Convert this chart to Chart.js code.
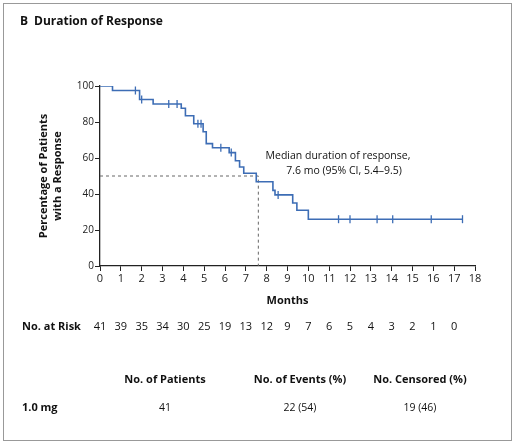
<!DOCTYPE html>
<html><head><meta charset="utf-8">
<script src="https://cdn.jsdelivr.net/npm/chart.js@4"></script>
<style>body{margin:0;background:#fff}#c{display:block}</style>
</head><body>
<div style="width:516px;height:448px"><canvas id="c" width="516" height="448"></canvas></div>
<script>
// KM step points: [month, percent]
const eventMonths = [0, 0.6, 1.9, 2.55, 3.9, 4.1, 4.5, 4.95, 5.1, 5.4, 6.2, 6.5, 6.7, 6.9, 7.5, 8.3, 8.4, 9.25, 9.45, 10.0, 17.4];
const survival    = [100, 97.5, 92.5, 90, 87.6, 83.5, 79, 74.6, 68, 65.7, 63, 58.5, 55, 51.5, 46.8, 42, 39.5, 35, 31, 26, 26];
const censorMonths = [1.7, 2.0, 3.3, 3.7, 4.7, 4.85, 5.8, 6.3, 8.55, 11.45, 12.0, 13.3, 14.05, 15.9, 17.4];
const atRisk = [41, 39, 35, 34, 30, 25, 19, 13, 12, 9, 7, 6, 5, 4, 3, 2, 1, 0];
const xTicks = [0,1,2,3,4,5,6,7,8,9,10,11,12,13,14,15,16,17,18];
const medianMonth = 7.6;

const FONT = "'Liberation Sans Narrow','Open Sans',sans-serif";
const blue = '#3d6db5';

function survAt(t) {
  let v = 100;
  for (let i = 0; i < eventMonths.length; i++) if (eventMonths[i] <= t) v = survival[i];
  return v;
}

const overlay = {
  id: 'overlay',
  afterDraw(chart) {
    const c = chart.ctx, xs = chart.scales.x;
    c.save();
    c.strokeStyle = '#999'; c.lineWidth = 1;
    c.strokeRect(3.5, 3.5, 508, 437);
    c.fillStyle = '#111';
    c.font = 'bold 12px ' + FONT; c.textBaseline = 'middle';
    c.fillText('B', 20, 22);
    c.fillText('Duration of Response', 34, 22);
    // y title
    c.save(); c.translate(50, 176); c.rotate(-Math.PI/2);
    c.textAlign = 'center'; c.font = 'bold 11px ' + FONT;
    c.fillText('Percentage of Patients', 0, -6);
    c.fillText('with a Response', 0, 8);
    c.restore();
    c.textAlign = 'center';
    c.font = 'bold 11px ' + FONT;
    c.fillText('Months', xs.getPixelForValue(9), 301);
    // annotation
    c.font = '10.5px ' + FONT;
    c.fillText('Median duration of response,', 338, 156);
    c.fillText('7.6 mo (95% CI, 5.4\u20139.5)', 344, 171);
    // at risk
    c.textAlign = 'left'; c.font = 'bold 11px ' + FONT;
    c.fillText('No. at Risk', 22, 327);
    c.textAlign = 'center'; c.font = '11px ' + FONT;
    atRisk.forEach((n, i) => c.fillText(String(n), xs.getPixelForValue(i), 327));
    // table
    c.font = 'bold 11px ' + FONT;
    c.fillText('No. of Patients', 165, 380);
    c.fillText('No. of Events (%)', 300, 380);
    c.fillText('No. Censored (%)', 420, 380);
    c.textAlign = 'left'; c.fillText('1.0 mg', 22, 408);
    c.textAlign = 'center'; c.font = '10.5px ' + FONT;
    c.fillText('41', 165, 408);
    c.fillText('22 (54)', 300, 408);
    c.fillText('19 (46)', 420, 408);
    c.restore();
  }
};

new Chart(document.getElementById('c'), {
  type: 'line',
  data: {
    datasets: [
      { data: eventMonths.map((m, i) => ({x: m, y: survival[i]})), stepped: true,
        borderColor: blue, borderWidth: 1.6, pointRadius: 0, fill: false },
      { type: 'scatter', data: censorMonths.map(m => ({x: m, y: survAt(m)})),
        pointStyle: 'line', rotation: 90, pointRadius: 4, borderColor: blue, borderWidth: 1.3 },
      { data: [{x: 0, y: 50}, {x: medianMonth, y: 50}, {x: medianMonth, y: 0}],
        borderColor: '#666', borderWidth: 1, borderDash: [3, 3], pointRadius: 0 }
    ]
  },
  options: {
    responsive: false, animation: false,
    layout: { padding: { left: 0, top: 86, right: 41, bottom: 152 } },
    plugins: { legend: { display: false }, tooltip: { enabled: false } },
    scales: {
      x: { type: 'linear', min: 0, max: 18,
        afterFit: s => { s.height = 30; },
        afterBuildTicks: s => { s.ticks = xTicks.map(v => ({value: v})); },
        grid: { drawOnChartArea: false, color: '#222', tickLength: 5 },
        border: { color: '#222', width: 1.3 },
        ticks: { color: '#222', font: { family: FONT, size: 11 }, maxRotation: 0, autoSkip: false, padding: 1 } },
      y: { min: 0, max: 100,
        afterFit: s => { s.width = 100; },
        grid: { drawOnChartArea: false, color: '#222', tickLength: 5 },
        border: { color: '#222', width: 1.3 },
        ticks: { stepSize: 20, color: '#222', font: { family: FONT, size: 10 }, padding: 1 } }
    }
  },
  plugins: [overlay]
});
</script>
</body></html>
